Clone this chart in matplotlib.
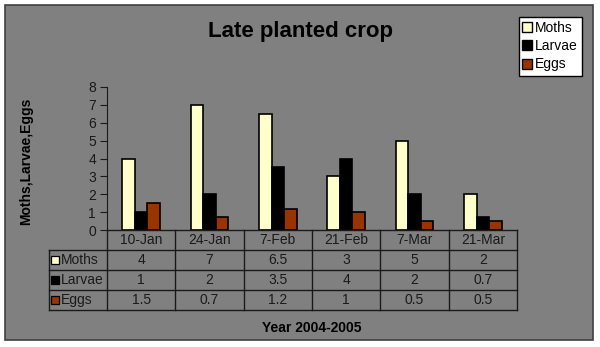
import numpy as np
import matplotlib.pyplot as plt
from matplotlib.patches import Rectangle
from matplotlib.lines import Line2D

plt.rcParams['font.family'] = ['Liberation Sans', 'DejaVu Sans']

# Sampling dates and counts per series
dates = ['10-Jan', '24-Jan', '7-Feb', '21-Feb', '7-Mar', '21-Mar']
moths = [4, 7, 6.5, 3, 5, 2]
larvae = [1, 2, 3.5, 4, 2, 0.7]
eggs = [1.5, 0.7, 1.2, 1, 0.5, 0.5]
series_names = ['Moths', 'Larvae', 'Eggs']
series_colors = ['#FFFFCC', '#000000', '#993300']

W, H = 600, 347
fig = plt.figure(figsize=(W / 100, H / 100), dpi=100)
fig.patch.set_facecolor('white')

def frac(left, top, right, bottom):
    # pixel box (top-left origin) -> figure fraction rect
    return [left / W, 1 - bottom / H, (right - left) / W, (bottom - top) / H]

# grey chart area with dark border, kept behind the axes
bg = Rectangle((5 / W, 1 - 340 / H), 588 / W, 335 / H, transform=fig.transFigure,
               facecolor='#808080', edgecolor='#404040', linewidth=1.2, zorder=-10)
fig.patches.append(bg)

txt = '#1a1a1a'

# bar plot
ax = fig.add_axes(frac(107, 87, 517, 230))
ax.set_facecolor('none')
x = np.arange(len(dates))
bw = 0.183
for i, (vals, c) in enumerate(zip([moths, larvae, eggs], series_colors)):
    ax.bar(x + (i - 1) * bw, vals, width=bw, color=c, edgecolor='black', linewidth=1.2, zorder=3)
ax.set_xlim(-0.5, 5.5)
ax.set_ylim(0, 8)
ax.set_yticks(range(0, 9))
ax.set_xticks([])
for s in ['top', 'right', 'bottom']:
    ax.spines[s].set_visible(False)
ax.spines['left'].set_color('#1a1a1a')
ax.tick_params(axis='y', direction='out', length=5, width=0.8, color='#1a1a1a',
               labelsize=10, labelcolor=txt, pad=3)
ax.set_ylabel('Moths,Larvae,Eggs', fontsize=10, fontweight='bold', color='black', labelpad=0)
ax.yaxis.set_label_coords(-(107 - 33) / 410, (230 - 161) / 143)

# data table under the axis
tab = fig.add_axes(frac(49, 230, 517, 310))
tab.set_facecolor('none')
x0 = -0.5 - 58 / (410 / 6)
tab.set_xlim(x0, 5.5)
tab.set_ylim(0, 4)
tab.axis('off')
lc = '#1a1a1a'
for yy in [0, 1, 2, 3]:
    tab.plot([x0, 5.5], [yy, yy], color=lc, lw=1, clip_on=False)
tab.plot([-0.5, 5.5], [4, 4], color=lc, lw=1, clip_on=False)
tab.plot([x0, x0], [0, 3], color=lc, lw=1, clip_on=False)
for k in range(7):
    tab.plot([k - 0.5] * 2, [0, 4], color=lc, lw=1, clip_on=False)

for j, d in enumerate(dates):
    tab.text(j, 3.5, d, ha='center', va='center', fontsize=10, color=txt)
for r, (name, vals, c) in enumerate(zip(series_names, [moths, larvae, eggs], series_colors)):
    yy = 2.5 - r
    tab.plot([x0 + 0.095], [yy], marker='s', ms=5.5, mfc=c, mec='black', mew=0.9, clip_on=False)
    tab.text(x0 + 0.17, yy, name, ha='left', va='center', fontsize=10, color=txt)
    for j, v in enumerate(vals):
        tab.text(j, yy, f'{v:g}', ha='center', va='center', fontsize=10, color=txt)

# titles
fig.text(300 / W, 1 - 32 / H, 'Late planted crop', ha='center', va='center',
         fontsize=16, fontweight='bold', color='black')
fig.text(312 / W, 1 - 328 / H, 'Year 2004-2005', ha='center', va='center',
         fontsize=10, fontweight='bold', color='black')

# legend
handles = [Line2D([], [], linestyle='none', marker='s', ms=6.5, mfc=c, mec='black', mew=1)
           for c in series_colors]
leg = fig.legend(handles, series_names, loc='upper left',
                 bbox_to_anchor=(519 / W, 1 - 17 / H), fontsize=10,
                 frameon=True, fancybox=False, edgecolor='black', framealpha=1,
                 handlelength=0.6, handletextpad=0.25, borderpad=0.3,
                 labelspacing=0.3, borderaxespad=0)
leg.get_frame().set_linewidth(1)

fig.savefig('out.png', dpi=100)
